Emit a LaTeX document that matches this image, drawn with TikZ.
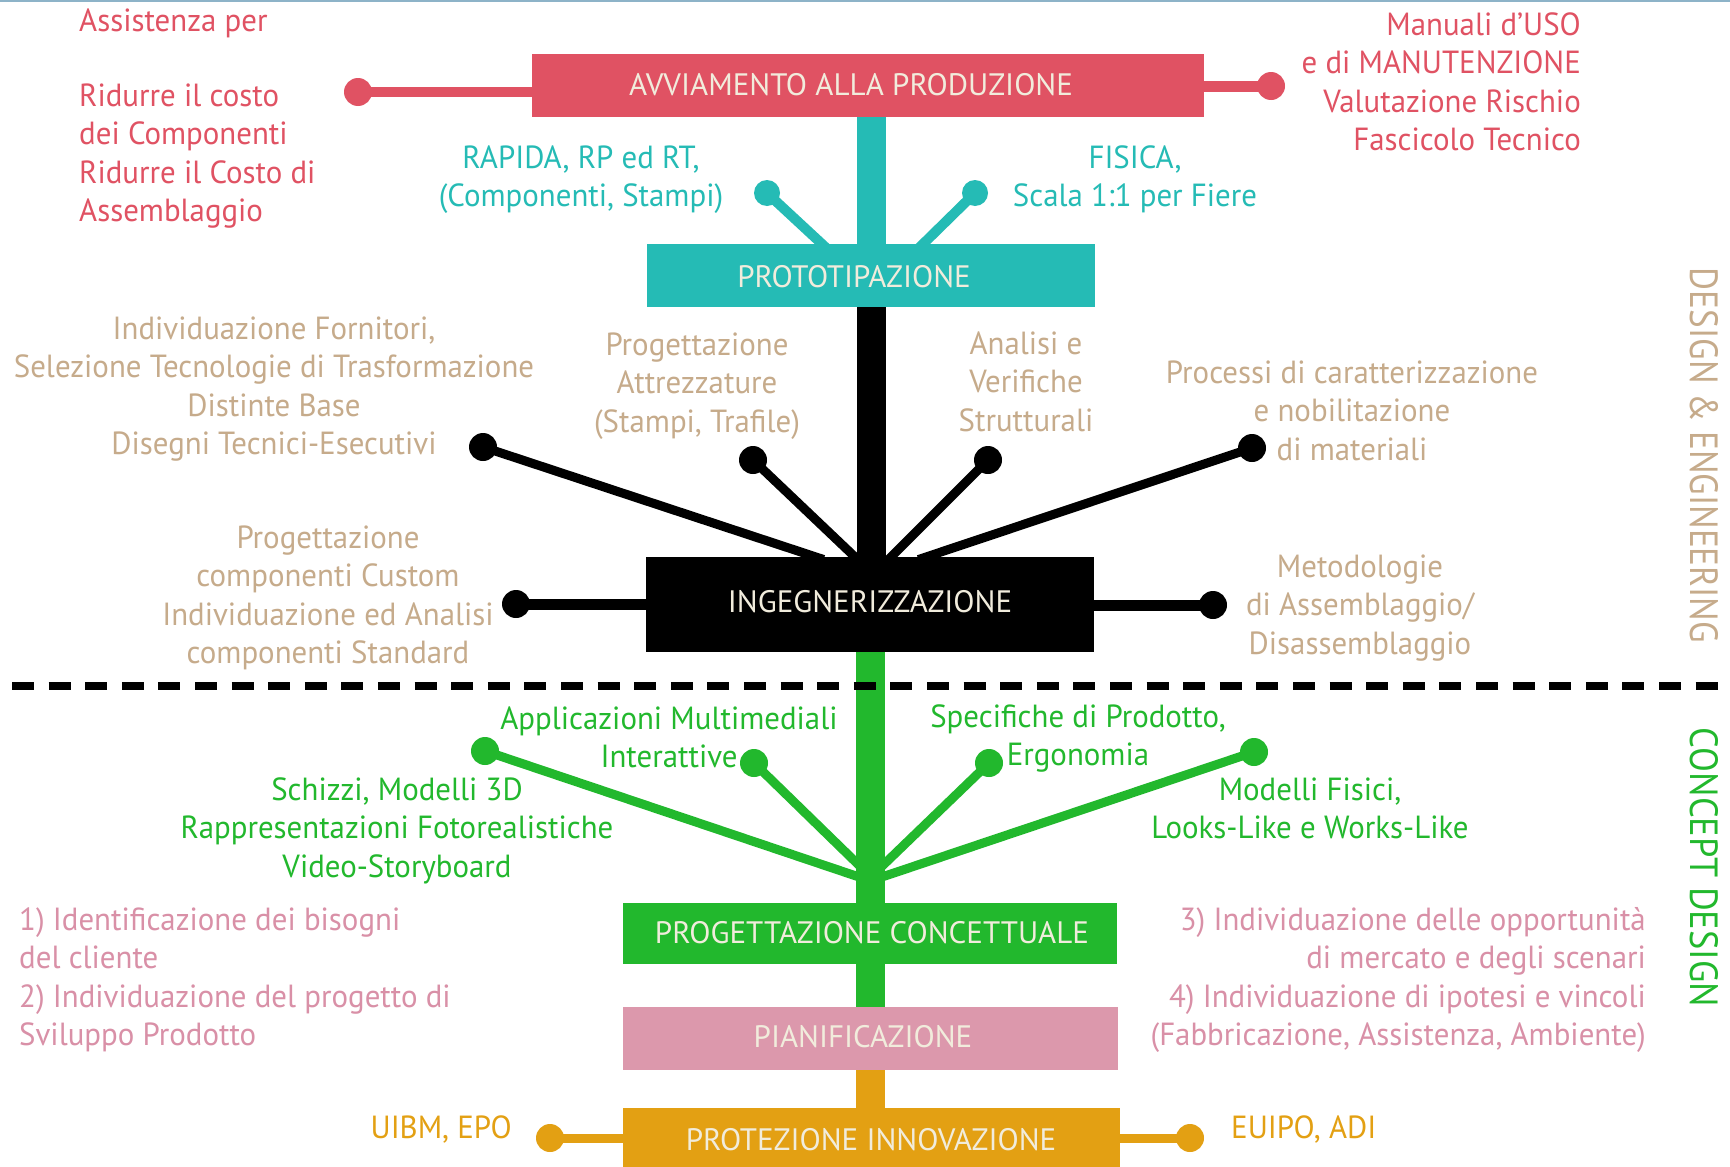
\documentclass[tikz,border=0pt]{standalone}
\usepackage{fontspec}
\setmainfont[FakeStretch=0.965]{PT Sans}
\newfontfamily\boxfont{PT Sans}
\usetikzlibrary{backgrounds}
\pgfdeclarelayer{bottom}
\pgfsetlayers{bottom,background,main}
\definecolor{cRed}{HTML}{E05263}
\definecolor{cTeal}{HTML}{25BBB5}
\definecolor{cTan}{HTML}{C6AB8B}
\definecolor{cGreen}{HTML}{22B82D}
\definecolor{cPinkBox}{HTML}{DC98AC}
\definecolor{cPink}{HTML}{D990A7}
\definecolor{cOrange}{HTML}{E3A013}
\definecolor{cCream}{HTML}{F1ECDC}
\definecolor{cTop}{HTML}{8DB3C8}
\begin{document}
\begin{tikzpicture}[x=1pt,y=-1pt,
  box/.style={fill=#1, inner sep=0pt, draw=none},
  btxt/.style={anchor=base, inner sep=0pt, text=cCream, font=\boxfont\fontsize{31}{37}\selectfont},
  dot/.style={circle, fill=#1, inner sep=0pt, minimum size=28pt},
  blk/.style={inner sep=0pt, anchor=north, yshift=26.88pt, align=center, font=\fontsize{32}{38.4}\selectfont},
  lft/.style={anchor=north west, align=left},
  rgt/.style={anchor=north east, align=right},
  side/.style={rotate=-90, inner sep=0pt, font=\boxfont\fontsize{40}{48}\selectfont},
  trunk/.style={line width=29pt, draw=#1},
  branch/.style={line width=9pt, draw=#1}
]
\begin{pgfonlayer}{bottom}
\fill[white] (0,0) rectangle (1730,1167);
\end{pgfonlayer}
\clip (0,0) rectangle (1730,1167);
\useasboundingbox (0,0) rectangle (1730,1167);

% boxes
\node[box=cRed, minimum width=672pt, minimum height=63pt] (avv) at (868,85.5) {};
\node[box=cTeal, minimum width=448pt, minimum height=63pt] (proto) at (871,275.5) {};
\node[box=black, minimum width=448pt, minimum height=95pt] (ing) at (870,604.5) {};
\node[box=cGreen, minimum width=494pt, minimum height=61pt] (pc) at (870,933.5) {};
\node[box=cPinkBox, minimum width=495pt, minimum height=63pt] (pian) at (870.5,1038.5) {};
\node[box=cOrange, minimum width=497pt, minimum height=80pt] (prot) at (871.5,1148) {};

\node[btxt] (avvt) at (851,95) {AVVIAMENTO ALLA PRODUZIONE};
\node[btxt] (protot) at (854,287) {PROTOTIPAZIONE};
\node[btxt] (ingt) at (870,612) {INGEGNERIZZAZIONE};
\node[btxt] (pct) at (872,943) {PROGETTAZIONE CONCETTUALE};
\node[btxt] (piant) at (863,1047) {PIANIFICAZIONE};
\node[btxt] (prott) at (871,1150) {PROTEZIONE INNOVAZIONE};

% dots
\node[dot=cRed] (rl) at (358,92) {};
\node[dot=cRed] (rr) at (1271,86) {};
\node[dot=cTeal, minimum size=26pt] (tl) at (767,193) {};
\node[dot=cTeal, minimum size=26pt] (tr) at (975,193) {};
\node[dot=black] (bl1) at (483,447) {};
\node[dot=black] (bl2) at (753,460) {};
\node[dot=black] (br1) at (988,460) {};
\node[dot=black] (br2) at (1252,448) {};
\node[dot=black] (bh1) at (516,604) {};
\node[dot=black] (bh2) at (1213,605) {};
\node[dot=cGreen] (gl1) at (485,751) {};
\node[dot=cGreen] (gl2) at (754,763) {};
\node[dot=cGreen] (gr1) at (989,763) {};
\node[dot=cGreen] (gr2) at (1254,752) {};
\node[dot=cOrange] (ol) at (550,1138) {};
\node[dot=cOrange] (or) at (1190,1138) {};

% branch ends
\coordinate (tc1) at (822,244);
\coordinate (tc2) at (923,244);
\coordinate (ib1) at (816,557);
\coordinate (ib2) at (855,557);
\coordinate (ib3) at (891,557);
\coordinate (ib4) at (926,557);
\coordinate (gc1) at (868,880);
\coordinate (gc2) at (868,874);
\coordinate (gc3) at (876,872);
\coordinate (gc4) at (876,879);

\begin{scope}[on background layer]
  \draw[line width=10pt, cRed] (rl.center) -- (rl.center -| avv.west);
  \draw[line width=11pt, cRed] (rr.center) -- (rr.center -| avv.east);
  \draw[branch=cTeal, line width=10pt, shorten >=-6pt] (tl.center) -- (tc1);
  \draw[branch=cTeal, line width=10pt, shorten >=-6pt] (tr.center) -- (tc2);
  \draw[branch=black, shorten >=-8pt] (bl1.center) -- (ib1);
  \draw[branch=black, shorten >=-8pt] (bl2.center) -- (ib2);
  \draw[branch=black, shorten >=-8pt] (br1.center) -- (ib3);
  \draw[branch=black, shorten >=-8pt] (br2.center) -- (ib4);
  \draw[line width=11pt, black] (bh1.center) -- (bh1.center -| ing.west);
  \draw[line width=11pt, black] (bh2.center) -- (bh2.center -| ing.east);
  \draw[branch=cGreen] (gl1.center) -- (gc1);
  \draw[branch=cGreen] (gl2.center) -- (gc2);
  \draw[branch=cGreen] (gr1.center) -- (gc3);
  \draw[branch=cGreen] (gr2.center) -- (gc4);
  \draw[line width=9pt, cOrange] (ol.center) -- (ol.center -| prot.west);
  \draw[line width=9pt, cOrange] (or.center) -- (or.center -| prot.east);
  \draw[trunk=cTeal] (proto.north |- avv.south) -- (proto.north);
  \draw[trunk=black] (proto.south) -- (proto.south |- ing.north);
  \draw[trunk=cGreen] (ing.south) -- (pc.north);
  \draw[trunk=cGreen] (pc.south) -- (pc.south |- pian.north);
  \draw[trunk=cOrange] (pian.south) -- (pian.south |- prot.north);
\end{scope}

% top rule and dashed separator
\coordinate (topl) at (0,1);
\coordinate (topr) at (1730,1);
\draw[cTop, line width=2pt] (topl) -- (topr);
\coordinate (dl) at (12,686);
\coordinate (dr) at (1718,686);
\draw[line width=8pt, black, dash pattern=on 22pt off 14.6pt] (dl) -- (dr);

% red texts
\node[blk, lft, text=cRed] (ra) at (79,31) {\strut Assistenza per};
\node[blk, lft, text=cRed] (rb) at (79,106) {\strut Ridurre il costo\\dei Componenti\\Ridurre il Costo di\\Assemblaggio};
\node[blk, rgt, text=cRed] (rc) at (1581,35) {\strut Manuali d’USO\\e di MANUTENZIONE\\Valutazione Rischio\\Fascicolo Tecnico};

% teal texts
\node[blk, text=cTeal] (ta) at (581,168) {\strut RAPIDA, RP ed RT,\\(Componenti, Stampi)};
\node[blk, text=cTeal] (tb) at (1135,168) {\strut FISICA,\\Scala 1:1 per Fiere};

% tan texts
\node[blk, text=cTan] (ea) at (274,339) {\strut Individuazione Fornitori,\\Selezione Tecnologie di Trasformazione\\Distinte Base\\Disegni Tecnici-Esecutivi};
\node[blk, text=cTan] (eb) at (697,355) {\strut Progettazione\\Attrezzature\\(Stampi, Trafile)};
\node[blk, text=cTan] (ec) at (1026,354) {\strut Analisi e\\Verifiche\\Strutturali};
\node[blk, text=cTan] (ed) at (1352,383) {\strut Processi di caratterizzazione\\e nobilitazione\\di materiali};
\node[blk, text=cTan] (ee) at (328,548) {\strut Progettazione\\componenti Custom\\Individuazione ed Analisi\\componenti Standard};
\node[blk, text=cTan] (ef) at (1360,577) {\strut Metodologie\\di Assemblaggio/\\Disassemblaggio};

% green texts
\node[blk, text=cGreen] (ga) at (669,729) {\strut Applicazioni Multimediali\\Interattive};
\node[blk, text=cGreen] (gb) at (397,800) {\strut Schizzi, Modelli 3D\\Rappresentazioni Fotorealistiche\\Video-Storyboard};
\node[blk, text=cGreen] (gcx) at (1078,727) {\strut Specifiche di Prodotto,\\Ergonomia};
\node[blk, text=cGreen] (gd) at (1310,800) {\strut Modelli Fisici,\\Looks-Like e Works-Like};

% pink texts
\node[blk, lft, text=cPink] (pa) at (19,930) {\strut 1) Identificazione dei bisogni\\del cliente\\2) Individuazione del progetto di\\Sviluppo Prodotto};
\node[blk, rgt, text=cPink] (pb) at (1646,930) {\strut 3) Individuazione delle opportunità\\di mercato e degli scenari\\4) Individuazione di ipotesi e vincoli\\(Fabbricazione, Assistenza, Ambiente)};

% orange texts
\node[anchor=base east, inner sep=0pt, text=cOrange, font=\fontsize{32}{38.4}\selectfont] (oa) at (512,1138) {UIBM, EPO};
\node[anchor=base west, inner sep=0pt, text=cOrange, font=\fontsize{32}{38.4}\selectfont] (ob) at (1231,1138) {EUIPO, ADI};

% side labels
\node[side, text=cTan] (sde) at (1704,455.5) {\resizebox{375pt}{28pt}{DESIGN \& ENGINEERING}};
\node[side, text=cGreen] (scd) at (1704,867.5) {\resizebox{279pt}{28pt}{CONCEPT DESIGN}};
\end{tikzpicture}
\end{document}
